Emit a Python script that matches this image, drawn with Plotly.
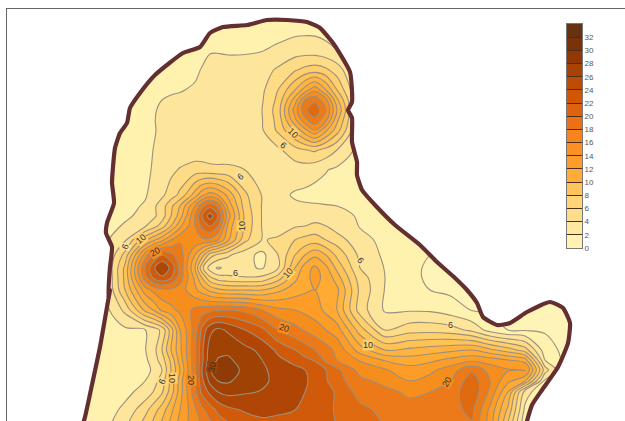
import plotly.graph_objects as go

x_nodes = [85,105,125,145,153,162,171,180,195,202,210,218,228,245,262,278,295,305,315,326,337,360,385,
           410,430,450,472,490,508,525,545,565,585]
y_nodes = [10,30,50,70,90,100,110,120,130,150,170,195,206,216,226,240,255,268,278,290,310,330,350,360,370,381,392,410,430]

far = [2.5,2.5,2,2,2,2,2,2,2,2]
row_010 = [3,3,3,3,3,3,3,3,3,3,3,3,3,3,3,3,3,3,3,3,3,3,3] + far
row_030 = [3,3,3,3,3,3,3,3,3,3,3,3,3,3,3,3.2,3.5,3.6,3.6,3.4,3.2,3,3] + far
row_050 = [3,3,3,3,3,3,3,3,3,3.5,3.9,3.9,3.8,3.8,3.9,4.4,5,5,4.9,4.5,4,3,3] + far
row_070 = [3,3,3,3,3,3,3.1,3.2,3.7,4.1,4.4,4.5,4.6,4.7,5.2,6.3,7.8,8.6,9,8.4,7,3.2,2.8] + far
row_090 = [3,3,3,3.2,3.4,3.6,3.8,3.9,4.2,4.4,4.5,4.6,4.7,4.8,5.6,8,12,15,17.5,14,10,3.3,2.8] + far
row_100 = [3,3,3,3.2,3.6,4,4.2,4.3,4.5,4.6,4.6,4.7,4.7,4.8,5.8,8.5,15,20,21.5,18.5,12.5,3.3,2.8] + far
row_110 = [3,3,3,3.2,3.8,4.3,4.5,4.6,4.7,4.7,4.7,4.7,4.7,4.8,6,9,17,21.5,23.5,20,14,3.3,2.8] + far
row_120 = [3,3,3,3.3,3.9,4.3,4.5,4.6,4.7,4.7,4.7,4.7,4.7,4.8,5.9,8.7,15.5,19.5,21.5,18.5,12.5,3.3,2.8] + far
row_130 = [3,3,3,3.5,3.9,4.2,4.5,4.6,4.7,4.7,4.7,4.7,4.7,4.8,5.8,8.4,12.5,15.5,18,14.5,11,3.3,2.8] + far
row_150 = [3,3,3,3.6,4,4.3,4.5,4.6,4.7,4.7,4.7,4.7,4.7,4.7,4.9,5.6,7.2,7.9,8.3,7.3,6,3.2,2.8] + far
row_170 = [3,3,3,3.7,4.1,4.6,5.5,6.2,7,6.9,6.6,6.5,6.5,6,4.9,4.8,5,5,4.6,4.1,3.6,3.1,2.8] + far
row_195 = [3,3,3.2,3.8,4.6,5.6,7,8.5,13,15.5,17,16,13.5,8.4,5.9,4.5,3.8,3.6,3.4,3.3,3.2,3,2.8] + far
row_206 = [3,3,3.4,4.2,5.5,7,9.5,12,18,21.5,23.5,21.5,15.5,9,5.9,4.7,4.3,4.2,4.2,4.1,4,3.3,2.9] + far
row_216 = [3,3.2,3.7,4.5,5.5,7,10,13,20,24,27,24,17,9.5,5.9,5,4.9,4.9,5,5,4.9,3.7,3] + far
row_226 = [3,3.3,4.2,5.8,7,9,12,15.5,20,22.5,24,22,15.5,9.5,5.9,5.4,5.8,6,6.5,6,5,3.9,3.2] + far
row_240 = [3,3.6,5.7,11.5,13.5,15.5,18,19.7,19.5,19.5,19.5,18,14.5,8.5,5.9,6.2,8,8.7,9,8,7,4.6,3.5] + [2.8,2.3,2,2,2,2,2,2,2,2]
row_255 = [3,3.5,8.7,19,22,24,22.5,21,16,13,9,7.5,6.3,4.8,3.4,6,10,12,13.5,12,9.5,5.5,3.6] + [2.5,2,1.8,1.8,1.8,1.8,1.8,1.8,1.8,1.8]
row_268 = [3,3.5,10.5,22,25.5,28,25.5,21.5,14,8.5,5,3.7,4.6,4.4,3.8,5.8,12,15,16.5,14.5,11.5,6,3.9] + [2.3,1.8,1.5,1.5,1.5,1.5,1.5,1.5,1.5,1.5]
row_278 = [3,3.4,10.5,21,24,25.5,24,21,15.5,12,8.5,7,6.5,6.2,6.5,9,13.5,15.5,16.5,15.5,13,7,4] + [2.3,1.8,1.5,1.5,1.5,1.5,1.5,1.5,1.5,1.5]
row_290 = [3,3.4,10,17,18.5,19.5,19.5,19,16.5,15,13.5,12.5,12,12,12,13.5,15,15.7,16,15.3,14.5,7.5,3.9] + [2.4,2,1.6,1.5,1.5,1.5,1.5,1.5,1.5,1.5]
row_310 = [3,3.3,6.5,12.5,14,16.5,17.5,18.5,20.5,21,21.5,21.8,22,21.5,20,18.5,18,17.5,17,15.5,14,7,3.7] + [3.8,3.7,3,1.9,1.7,1.5,1.5,1.5,1.5,1]
row_330 = [3,3,3.6,3.9,4.8,6.5,11,16,21,24.5,27.5,28.5,27.7,26,24.5,22,20.7,19.8,19,18,17,11,6] + [7.2,7.3,6.9,5.5,3.2,2,1.8,1.8,1.5,1]
row_350 = [3,3,3.2,3.9,5,8,12,15.5,21.5,25.5,29,29.6,29.6,28.6,27.5,25.5,24,23,22,20.8,19.5,15,12] + [12.5,13,13.5,14,12.5,11,9,2.9,1.5,1]
row_360 = [3,3,3.1,3.6,4.8,7,10.5,15,21.5,25.5,29.3,30.1,30.3,29.2,28,26.5,25.3,24.5,23.8,21.5,20,17.8,15.8] + [15,15.5,16.5,17.5,17,16,15,4,1.5,1]
row_370 = [3,3,3,3.3,4.3,6,10,14,21.5,26,29.9,30.8,31,29.5,28.3,27.4,26.6,26,25.2,24,22.5,19.3,18.2] + [16.8,17.5,19,21.6,19.2,18.2,18.6,7,1.5,1]
row_381 = [3,3,3.2,4,5,7,10.5,15,21.5,25.5,28.6,30,30.3,29,28.3,27.6,26.9,26.2,25.5,24.2,22.8,20.5,19.5] + [18,18.8,20,23.2,20,16.5,14,3.5,1.2,1]
row_392 = [3,3,3.4,4.8,6,7.7,11,15,21.5,24.5,26.5,28,28.6,28.2,27.9,27.4,26.5,26,25.5,24.5,23.8,21.2,20.5] + [19.6,20,20.8,23.6,19.5,14,5,2,1,1]
row_410 = [3,3,4.5,7.3,9,11,13.5,16,19.6,21.5,23,24.5,25.5,26.2,26.3,26.1,26,25.5,25,24.4,23.8,22.5,21.5] + [20.8,21,21.3,22.5,17.5,11.5,3.5,1,1,1]
row_430 = [3.2,3.6,6,9.5,11,13,15,17,19,20,21,22,23,24.5,25.5,25.7,25.5,25.2,24.8,24.3,24,23.2,22] + [21.5,21.5,21.5,21.5,17,9,2,1,1,1]

z_rows = [row_010,row_030,row_050,row_070,row_090,row_100,row_110,row_120,row_130,row_150,row_170,row_195,row_206,row_216,
          row_226,row_240,row_255,row_268,row_278,row_290,row_310,row_330,row_350,row_360,row_370,row_381,row_392,row_410,row_430]

border_x = [78,85,93,100,107,110,108,110,112,106,107,114,112,113,115,120,127,130,140,155,183,200,210,223,247,267,287,307,320,333,350,352,348,352,352,357,357,362,375,395,420,437,455,467,477,483,497,510,527,550,563,570,568,558,542,532,527,522]
border_y = [440,417,380,347,307,290,298,267,247,233,223,203,183,167,148,133,123,108,93,75,53,47,33,27,25,20,20,22,28,43,72,102,110,118,142,162,175,190,205,225,245,262,278,290,303,317,325,323,312,302,308,323,343,367,390,405,421,440]

map_colors = ["#FFF4B8","#FFF1AE","#FEE59C","#FEDB85","#FFCF6C","#FFC255","#FFB442","#FFAA32","#FD9C26",
              "#F68E1E","#EC7A18","#E06A10","#D05A09","#B04605","#A04204","#8E3B07","#6B3010"]
bar_colors = ["#FFF2B2","#FFE8A0","#FEDD8C","#FFD578","#FFC55C","#FFAC3C","#FE9C2B","#FC9024","#F7841C",
              "#EC7016","#E0620C","#D25705","#C04C04","#AA4204","#913805","#7A3208","#663212"]
band_mids = [1,3,5,7,9,11,13,15,17,19,21,23,25,27,29,31,33]
tick_vals = [0,2,4,6,8,10,12,14,16,18,20,22,24,26,28,30,32]

contour_scale = [[0, map_colors[0]]] + [[(i+1)/18, c] for i, c in enumerate(map_colors)] + [[1, map_colors[-1]]]
bar_scale = []
for i, c in enumerate(bar_colors):
    bar_scale += [[i/17, c], [(i+1)/17, c]]

label_text  = ["10","6","6","10","6","10","20","6","10","6","6","10","20","30","20","10","6","20"]
label_x     = [293,283,240,242,125,141,155,235,288,360,450,368,284,212,191,172,162,447]
label_y     = [133,145,177,226,247,239,252,273,273,260,325,345,328,367,380,378,382,382]
label_angle = [45,40,-40,-90,-70,-40,-30,0,-50,50,0,0,15,-80,90,90,-70,-60]
label_bg    = ["#FFCF6C","#FEDB85","#FEE59C","#FFCF6C","#FEE59C","#FFCF6C","#F68E1E","#FEE59C","#FFCF6C",
               "#FEE59C","#FEE59C","#FFCF6C","#F68E1E","#A04204","#F68E1E","#FFCF6C","#FEDB85","#F68E1E"]

fig = go.Figure()
fig.add_trace(go.Contour(
    x=x_nodes, y=y_nodes, z=z_rows, colorscale=contour_scale, autocontour=False, showscale=False,
    contours=dict(start=0, end=34, size=2, coloring="fill"),
    line=dict(color="#9c8f7c", width=1.1, smoothing=1), hoverinfo="skip"))
fig.add_trace(go.Scatter(
    x=border_x + [640, 640, 0, 0], y=border_y + [440, 0, 0, 440],
    mode="lines", fill="toself", fillcolor="white", line=dict(width=0), hoverinfo="skip", showlegend=False))
fig.add_trace(go.Scatter(
    x=border_x, y=border_y, mode="lines", line=dict(color="#642F30", width=4.2, shape="spline", smoothing=0.5),
    hoverinfo="skip", showlegend=False))
fig.add_trace(go.Heatmap(
    x=[0], y=band_mids, z=[[m] for m in band_mids], zmin=0, zmax=34, colorscale=bar_scale, showscale=False,
    xaxis="x2", yaxis="y2", hoverinfo="skip"))

for t, lx, ly, a, bg in zip(label_text, label_x, label_y, label_angle, label_bg):
    fig.add_annotation(x=lx, y=ly, text=t, showarrow=False, textangle=a, bgcolor=bg, borderpad=0,
                       font=dict(size=9, color="#333", family="Liberation Sans"))

fig.update_layout(
    width=625, height=421, margin=dict(l=7, r=0, t=9, b=0, autoexpand=False),
    paper_bgcolor="white", plot_bgcolor="white", showlegend=False,
    xaxis=dict(range=[7, 625], side="top", showline=True, linecolor="#666", linewidth=1,
               showticklabels=False, ticks="", showgrid=False, zeroline=False),
    yaxis=dict(range=[421, 9], showline=True, linecolor="#666", linewidth=1,
               showticklabels=False, ticks="", showgrid=False, zeroline=False),
    xaxis2=dict(domain=[(567-7)/618, (582-7)/618], anchor="y2", showticklabels=False, ticks="", showgrid=False,
                zeroline=False, showline=True, mirror=True, linecolor="#777", linewidth=1),
    yaxis2=dict(domain=[(421-248)/412, (421-24)/412], anchor="x2", side="right", range=[0, 34],
                tickmode="array", tickvals=tick_vals, ticks="inside", ticklen=15, tickwidth=1, tickcolor="#4a2f1c",
                tickfont=dict(size=8, color="#555555", family="Liberation Sans"), showgrid=False, zeroline=False,
                showline=True, mirror=True, linecolor="#777", linewidth=1),
)
fig.write_html("out.html", config=dict(displayModeBar=False),
               post_script="document.body.style.margin='0';document.body.style.overflow='hidden';")
